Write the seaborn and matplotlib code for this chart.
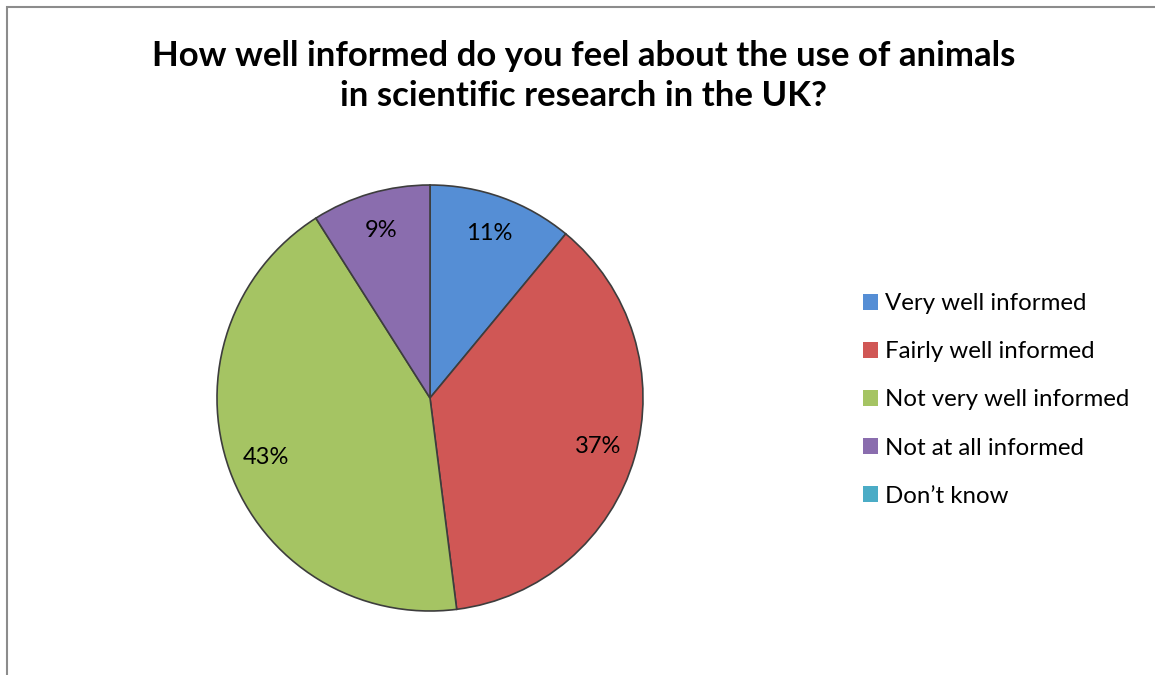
import matplotlib
matplotlib.use("Agg")
import matplotlib.pyplot as plt
import seaborn as sns
from matplotlib.patches import Patch, Rectangle

categories = ["Very well informed", "Fairly well informed", "Not very well informed",
              "Not at all informed", "Don\u2019t know"]
values = [11, 37, 43, 9, 0]
colors = ["#558ED5", "#D05755", "#A5C463", "#8A6DAE", "#4BACC6"]
title = "How well informed do you feel about the use of animals\nin scientific research in the UK?"

sns.set_theme(style="white")
plt.rcParams['font.family'] = ['Lato', 'DejaVu Sans']
plt.rcParams['text.color'] = 'black'

W, H = 1155, 675
fig = plt.figure(figsize=(W / 100, H / 100), dpi=100)
fig.patch.set_facecolor("white")

# chart frame
fig.add_artist(Rectangle((7 / W, -0.05), 1.1, (H - 7) / H + 0.05, transform=fig.transFigure,
                         fill=False, edgecolor="#8c8c8c", linewidth=1.5))

cx, cy, r = 430, 398, 213
ax = fig.add_axes([(cx - r) / W, (H - cy - r) / H, 2 * r / W, 2 * r / H])

pie_vals = [v for v in values if v > 0]
pie_cols = [c for v, c in zip(values, colors) if v > 0]
wedges, texts, autotexts = ax.pie(
    pie_vals, colors=pie_cols, startangle=90, counterclock=False,
    autopct=lambda p: f"{p:.0f}%", pctdistance=0.82, radius=1,
    wedgeprops=dict(edgecolor="#3d3d3d", linewidth=1.2),
    textprops=dict(fontsize=17, color="black"))
ax.set_xlim(-1, 1)
ax.set_ylim(-1, 1)
ax.set_aspect("equal")
ax.axis("off")

fig.text(584 / W, 1 - 76 / H, title, ha="center", va="center", fontsize=25,
         fontweight="bold", linespacing=1.33, color="black")

handles = [Patch(facecolor=c, edgecolor="none") for c in colors]
leg = fig.legend(handles, categories, loc="center left", bbox_to_anchor=(841 / W, 1 - 400 / H),
                 frameon=False, fontsize=17.3, handlelength=0.65, handleheight=0.65,
                 handletextpad=0.3, labelspacing=1.13)
for t in leg.get_texts():
    t.set_color("black")

fig.savefig("out.png", dpi=100)
